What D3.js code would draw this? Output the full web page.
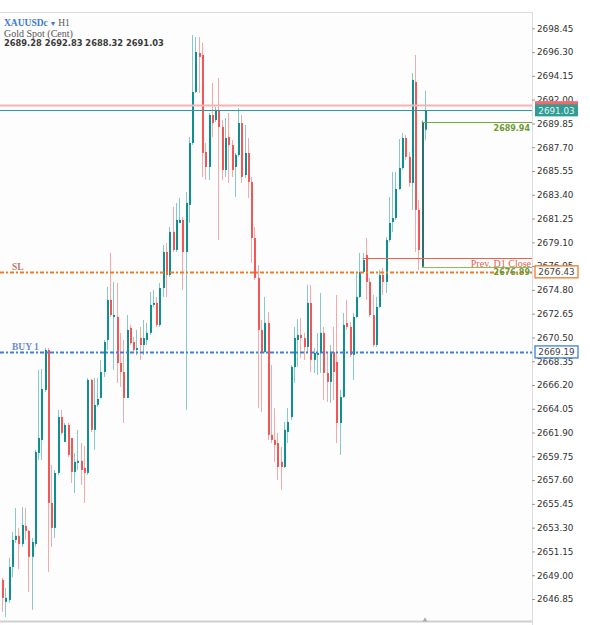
<!DOCTYPE html>
<html>
<head>
<meta charset="utf-8">
<script src="https://cdn.jsdelivr.net/npm/d3@7"></script>
<style>
body { margin: 0; background: #fff; }
svg { display: block; font-family: "DejaVu Sans", sans-serif; }
</style>
</head>
<body>
<svg id="chart" width="590" height="625"></svg>
<script>
var width = 590, height = 625;
var plotRight = 532, plotTop = 12, plotBottom = 621;

// XAUUSDc H1, last 130 bars, left to right
var opens = [2648.58,2646.59,2646.77,2649.75,2652.19,2652.56,2651.83,2653.46,2653.01,2650.66,
  2651.83,2660.06,2661.23,2665.75,2669.37,2655.54,2653.28,2658.25,2663.31,2661.05,
  2662.59,2661.41,2658.34,2659.16,2659.34,2658.70,2658.25,2666.66,2662.14,2664.40,
  2665.03,2667.38,2670.27,2673.89,2672.35,2672.35,2668.19,2667.38,2665.03,2671.36,
  2670.09,2669.37,2670.45,2669.82,2670.27,2670.91,2673.44,2673.62,2671.63,2674.97,
  2678.23,2676.15,2680.04,2678.41,2680.85,2681.12,2678.23,2682.48,2688.08,2692.69,
  2696.22,2696.04,2687.27,2685.91,2690.61,2690.16,2691.07,2689.53,2685.64,2688.63,
  2687.90,2685.91,2687.00,2689.89,2685.19,2687.18,2684.56,2679.49,2675.88,2671.18,
  2669.19,2671.81,2661.69,2661.23,2660.96,2659.25,2658.79,2661.96,2663.31,2667.83,
  2670.27,2670.73,2670.45,2669.64,2673.62,2668.47,2668.92,2669.10,2670.91,2667.29,
  2666.48,2669.19,2668.29,2662.77,2665.12,2671.81,2671.45,2668.92,2672.35,2674.16,
  2676.42,2677.96,2675.52,2672.53,2669.82,2673.26,2676.15,2675.52,2679.31,2680.94,
  2681.30,2683.92,2685.82,2688.53,2686.82,2684.47,2693.60,2682.03,2676.89,2689.28];
var highs = [2648.76,2647.85,2650.57,2652.92,2655.09,2653.28,2655.18,2655.09,2653.10,2652.37,
  2660.33,2667.56,2667.65,2669.55,2669.55,2658.97,2658.52,2663.95,2663.95,2662.77,
  2662.77,2661.41,2660.06,2662.14,2660.96,2660.69,2666.84,2666.75,2666.84,2666.84,
  2668.47,2670.27,2675.07,2678.14,2675.52,2675.43,2670.91,2670.27,2672.53,2671.63,
  2670.55,2671.18,2671.45,2672.08,2671.81,2674.61,2674.79,2674.16,2675.43,2678.86,
  2679.04,2680.49,2682.30,2682.66,2683.11,2681.39,2683.65,2688.63,2697.85,2697.67,
  2697.67,2697.12,2688.08,2690.79,2693.51,2691.34,2693.96,2690.16,2690.34,2690.79,
  2688.35,2687.18,2691.25,2690.61,2689.71,2688.53,2685.01,2680.49,2677.05,2672.08,
  2674.16,2672.81,2668.01,2664.13,2661.87,2660.60,2662.86,2664.13,2668.01,2671.45,
  2672.17,2672.26,2670.91,2675.25,2675.25,2669.55,2670.91,2674.52,2671.45,2669.19,
  2669.82,2671.45,2674.34,2665.75,2672.71,2673.89,2671.90,2672.71,2676.42,2678.14,
  2678.14,2679.49,2675.88,2674.34,2674.16,2676.60,2676.78,2679.58,2683.20,2685.46,
  2685.46,2688.44,2688.99,2688.81,2687.27,2694.41,2696.04,2682.93,2690.10,2692.83];
var lows = [2645.69,2645.23,2646.50,2648.85,2651.92,2649.57,2651.56,2652.19,2647.49,2645.87,
  2651.56,2659.43,2659.43,2665.57,2649.30,2651.56,2652.37,2658.07,2661.69,2661.05,
  2659.70,2657.35,2656.44,2658.52,2657.17,2655.54,2658.07,2661.96,2660.33,2664.22,
  2665.03,2666.93,2669.37,2672.35,2667.56,2666.39,2666.03,2662.77,2665.03,2669.82,
  2669.19,2668.92,2668.47,2668.92,2669.82,2670.73,2673.26,2671.45,2671.45,2674.16,
  2674.16,2675.97,2678.23,2678.23,2680.85,2674.79,2663.95,2680.85,2687.90,2692.60,
  2692.60,2685.01,2684.74,2684.74,2688.63,2689.98,2679.31,2684.74,2685.01,2684.47,
  2685.01,2683.20,2686.82,2684.47,2684.92,2683.11,2677.23,2675.70,2664.13,2663.77,
  2669.10,2661.23,2660.96,2659.25,2657.62,2656.71,2658.70,2660.96,2663.04,2666.39,
  2667.83,2668.65,2668.47,2669.10,2667.38,2667.29,2667.11,2667.29,2664.85,2664.67,
  2664.58,2664.85,2660.96,2659.88,2665.03,2671.18,2668.74,2666.66,2672.26,2674.07,
  2676.33,2673.89,2672.35,2669.64,2669.64,2673.17,2674.34,2674.52,2679.13,2680.04,
  2681.12,2683.83,2685.64,2686.55,2684.11,2682.03,2678.23,2676.60,2676.80,2688.32];
var closes = [2646.95,2646.95,2649.75,2652.19,2652.56,2651.83,2653.55,2653.01,2650.66,2652.01,
  2660.15,2661.41,2665.84,2669.37,2655.54,2653.28,2658.25,2663.31,2661.87,2662.59,
  2659.88,2658.34,2659.25,2659.34,2658.52,2658.25,2666.66,2662.14,2664.40,2664.94,
  2667.38,2670.09,2673.89,2672.53,2672.53,2668.19,2667.38,2665.03,2671.18,2669.99,
  2669.37,2669.55,2669.82,2670.45,2670.91,2673.44,2673.62,2671.63,2674.97,2678.23,
  2676.15,2680.04,2678.41,2681.12,2681.12,2678.23,2682.66,2688.08,2692.69,2696.31,
  2695.86,2687.18,2685.91,2690.61,2689.89,2691.07,2689.53,2685.64,2688.53,2687.90,
  2685.64,2687.00,2689.89,2685.01,2687.18,2684.56,2679.49,2675.88,2671.18,2669.19,
  2671.81,2661.69,2661.23,2660.78,2658.79,2658.79,2662.14,2662.86,2667.83,2670.45,
  2670.73,2670.45,2669.64,2673.62,2668.47,2669.10,2669.10,2670.91,2667.29,2666.48,
  2669.19,2667.38,2662.77,2665.12,2671.63,2671.45,2668.92,2672.35,2674.16,2676.42,
  2677.51,2675.52,2672.53,2669.82,2673.26,2676.15,2675.52,2679.31,2680.85,2681.30,
  2683.92,2685.82,2688.53,2686.82,2684.47,2693.78,2682.03,2678.41,2689.94,2691.03];

var tickValues = [2698.45,2696.30,2694.15,2692.00,2689.85,2687.70,2685.55,2683.40,2681.25,
  2679.10,2676.95,2674.80,2672.65,2670.50,2668.35,2666.20,2664.05,2661.90,2659.75,
  2657.60,2655.45,2653.30,2651.15,2649.00,2646.85];

var askPrice = 2691.50, bidPrice = 2691.03;
var prevD1Close = 2677.69;
var slPrice = 2676.43, buyPrice = 2669.19;
var rangeHigh = 2689.94, rangeLow = 2676.89;

var fmt = d3.format(".2f");

var x = d3.scaleLinear().domain([0, opens.length - 1]).range([2, 425]);
var y = d3.scaleLinear().domain([2646.85, 2698.45]).range([599, 28.3]);

var svg = d3.select("#chart");

svg.append("rect").attr("width", width).attr("height", height).attr("fill", "#fff");
svg.append("rect").attr("x", 0).attr("y", plotTop).attr("width", plotRight).attr("height", plotBottom - plotTop)
  .attr("fill", "#fdfdfd");

// frame
svg.append("line").attr("x1", 0).attr("x2", plotRight).attr("y1", plotTop + 0.5).attr("y2", plotTop + 0.5)
  .attr("stroke", "#dcdcdc");
svg.append("line").attr("x1", 0).attr("x2", plotRight).attr("y1", plotBottom + 0.5).attr("y2", plotBottom + 0.5)
  .attr("stroke", "#d0d0d0").attr("stroke-width", 2);

var plot = svg.append("g");

// candles
var bars = plot.selectAll("g.bar").data(opens.map(function(o, i) {
    return {i: i, o: o, h: highs[i], l: lows[i], c: closes[i]};
  }))
  .enter().append("g").attr("class", "bar");

function barColor(d, wick) {
  if (d.i === 128) return wick ? "#6f9a9a" : "#2f6e70";
  if (d.c >= d.o) return wick ? "#86caca" : "#0e9090";
  return wick ? "#f6a9a9" : "#f25656";
}

bars.append("line")
  .attr("x1", function(d) { return Math.round(x(d.i)) + 0.5; })
  .attr("x2", function(d) { return Math.round(x(d.i)) + 0.5; })
  .attr("y1", function(d) { return y(d.h); })
  .attr("y2", function(d) { return y(d.l); })
  .attr("stroke", function(d) { return barColor(d, true); })
  .attr("stroke-width", 1);

bars.append("rect")
  .attr("x", function(d) { return Math.round(x(d.i)); })
  .attr("width", 2)
  .attr("y", function(d) { return y(Math.max(d.o, d.c)); })
  .attr("height", function(d) { return Math.max(1, Math.abs(y(d.o) - y(d.c))); })
  .attr("fill", function(d) { return barColor(d, false); });

// price levels
function hline(price, x1, color, w, dash) {
  var yy = Math.round(y(price)) + 0.5;
  var l = plot.append("line").attr("x1", x1).attr("x2", plotRight).attr("y1", yy).attr("y2", yy)
    .attr("stroke", color).attr("stroke-width", w);
  if (dash) l.attr("stroke-dasharray", dash);
  return yy;
}

hline(askPrice, 0, "#f6b3b3", 2);
hline(bidPrice, 0, "#2a9a98", 1);
var yPrev = hline(prevD1Close, x(110), "#f0604c", 1);
var yHi = hline(rangeHigh, x(128), "#72a83c", 1);
var yLo = hline(rangeLow, x(128), "#8cbc5c", 1);
var ySl = hline(slPrice, 0, "#ef7a22", 2, "4,2,2,2");
var yBuy = hline(buyPrice, 0, "#3d7fe0", 2, "4,2,2,2");

plot.append("text").attr("x", 530).attr("y", yHi + 8).attr("text-anchor", "end")
  .attr("font-size", 8).attr("font-weight", "bold").attr("fill", "#6e9a34").text(fmt(rangeHigh));
plot.append("text").attr("x", 530).attr("y", yLo + 7.5).attr("text-anchor", "end")
  .attr("font-size", 8).attr("font-weight", "bold").attr("fill", "#6e9a34").text(fmt(rangeLow));
plot.append("text").attr("x", 531).attr("y", yPrev + 8.5).attr("text-anchor", "end")
  .attr("font-family", "Liberation Serif").attr("font-size", 10).attr("fill", "#e2624e").text("Prev. D1 Close");

plot.append("text").attr("x", 12).attr("y", ySl - 3).attr("font-family", "Liberation Serif")
  .attr("font-size", 9.5).attr("font-weight", "bold").attr("fill", "#c4786a").text("SL");
plot.append("text").attr("x", 12).attr("y", yBuy - 3).attr("font-family", "Liberation Serif")
  .attr("font-size", 9.5).attr("font-weight", "bold").attr("fill", "#6a8cd0").text("BUY 1");

// right axis
var axis = svg.append("g").attr("transform", "translate(" + plotRight + ",0)")
  .call(d3.axisRight(y).tickValues(tickValues).tickSize(3).tickPadding(2).tickFormat(fmt));
axis.select(".domain").attr("d", "M0.5," + plotTop + "V" + (plotBottom + 4)).attr("stroke", "#dcdcdc");
axis.selectAll(".tick line").attr("stroke", "#999");
axis.selectAll(".tick text").attr("font-size", 8.8).attr("fill", "#333")
  .attr("font-family", "DejaVu Sans");

// right-side price tags
function tag(price, fill, stroke, textColor, dy, withText) {
  var yy = y(price) + (dy || 0);
  var g = svg.append("g");
  g.append("rect").attr("x", 535).attr("y", yy - 6).attr("width", 43).attr("height", 12)
    .attr("fill", fill).attr("stroke", stroke).attr("stroke-width", stroke === "none" ? 0 : 1.3);
  if (withText) {
    g.append("text").attr("x", 556.5).attr("y", yy + 3.2).attr("text-anchor", "middle")
      .attr("font-size", 8.8).attr("fill", textColor).text(fmt(price));
  }
}
// ask tag sits mostly behind the bid tag
tag(askPrice, "#f06a6a", "none", "#fbd0d0", 2, false);
tag(bidPrice, "#2f9d95", "none", "#e6f4f2", 0, true);
tag(slPrice, "#fff", "#ee7a2a", "#444", 0, true);
tag(buyPrice, "#fff", "#3d7fe0", "#444", 0, true);

// last bar marker on the time scale
svg.append("path").attr("d", d3.symbol().type(d3.symbolTriangle).size(10)())
  .attr("transform", "translate(" + x(129) + "," + (plotBottom - 1) + ")").attr("fill", "#aaa");

// header
var hdr = svg.append("g").attr("font-family", "Liberation Serif");
var t1 = hdr.append("text").attr("x", 4).attr("y", 26).attr("font-size", 9.5);
t1.append("tspan").attr("font-weight", "bold").attr("fill", "#3b7ad8").text("XAUUSDc");
t1.append("tspan").attr("fill", "#3b7ad8").attr("font-size", 7).text(" \u25BC ");
t1.append("tspan").attr("fill", "#555").text("H1");
hdr.append("text").attr("x", 4).attr("y", 37).attr("font-size", 10).attr("fill", "#555").text("Gold Spot (Cent)");
svg.append("text").attr("x", 4).attr("y", 46).attr("font-size", 8.3).attr("font-weight", "bold")
  .attr("fill", "#3a3a3a")
  .text([opens[129], highs[129], lows[129], closes[129]].map(fmt).join(" "));
</script>
</body>
</html>
